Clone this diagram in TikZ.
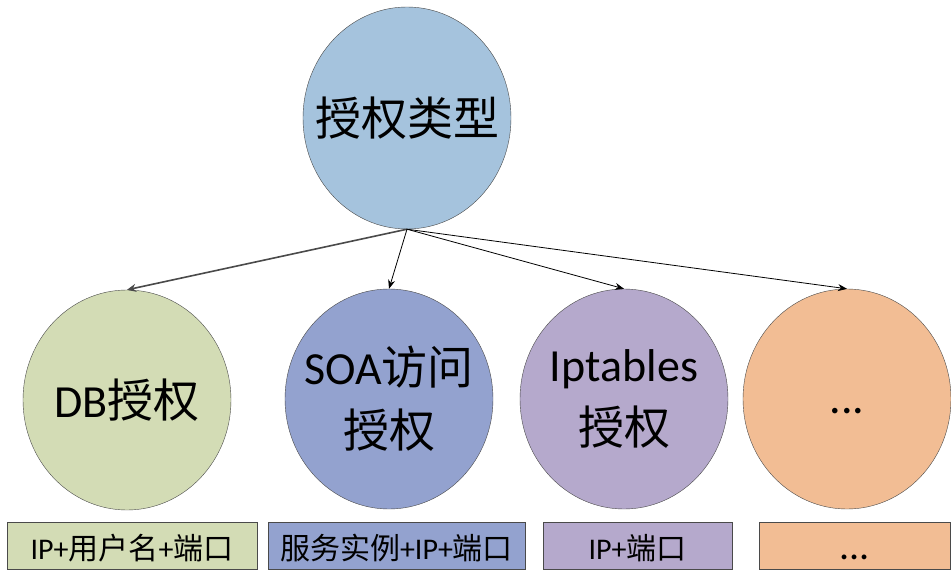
\documentclass[tikz,border=0pt]{standalone}
\usepackage{fontspec}
\setmainfont{Carlito}
\newfontfamily\cjk{Noto Sans CJK SC}
\usetikzlibrary{arrows.meta, shapes.geometric}

\definecolor{linegray}{HTML}{4A4A4A}
\definecolor{rootblue}{HTML}{A5C3DD}
\definecolor{dbgreen}{HTML}{D3DCB5}
\definecolor{soablue}{HTML}{93A2CF}
\definecolor{iplilac}{HTML}{B5A9CC}
\definecolor{moreorange}{HTML}{F2BD94}

\begin{document}
\begin{tikzpicture}[x=1pt, y=-1pt,
    bubble/.style={ellipse, draw=linegray, minimum width=208pt, minimum height=220pt, inner sep=0pt,
        label={[align=center, font=\fontsize{46}{63}\selectfont]center:#1}},
    tag/.style={draw=linegray, minimum height=47pt, inner sep=0pt, text height=30pt, text depth=2pt, font=\fontsize{30}{36}\selectfont}]

    \useasboundingbox (0, 0) rectangle (951, 570);

    \path node (root) [bubble={\cjk 授权类型}, fill=rootblue, minimum height=222pt] at (407, 118) {};

    \path node (db) [bubble={DB{\cjk 授权}}, fill=dbgreen] at (127, 400) {};
    \path node (soa) [bubble={SOA{\cjk 访问}\\{\cjk 授权}}, fill=soablue] at (389, 399) {};
    \path node (ipt) [bubble={Iptables\\{\cjk 授权}}, fill=iplilac] at (624, 399) {};
    \path node (more) [bubble={...\vphantom{I}}, fill=moreorange] at (847, 399) {};

    \path node (dbtag) [tag, fill=dbgreen, minimum width=250pt] at (132, 545.5) {IP+{\cjk 用户名}+{\cjk 端口}};
    \path node (soatag) [tag, fill=soablue, minimum width=257pt] at (396.5, 545.5) {{\cjk 服务实例}+IP+{\cjk 端口}};
    \path node (ipttag) [tag, fill=iplilac, minimum width=189pt] at (637.5, 545.5) {IP+{\cjk 端口}};
    \path node (moretag) [tag, fill=moreorange, minimum width=191pt, font=\fontsize{40}{40}\selectfont] at (854.5, 545.5) {...};

    \draw[line width=1.6pt, linegray, arrows={-Stealth[length=9pt, width=8pt]}] (root.south) -- (db.north);
    \draw[line width=0.8pt, arrows={-Stealth[length=9pt, width=7pt]}] (root.south) -- (soa.north);
    \draw[line width=0.8pt, arrows={-Stealth[length=9pt, width=7pt]}] (root.south) -- (ipt.north);
    \draw[line width=0.8pt, arrows={-Stealth[length=9pt, width=7pt]}] (root.south) -- (more.north);

\end{tikzpicture}
\end{document}
